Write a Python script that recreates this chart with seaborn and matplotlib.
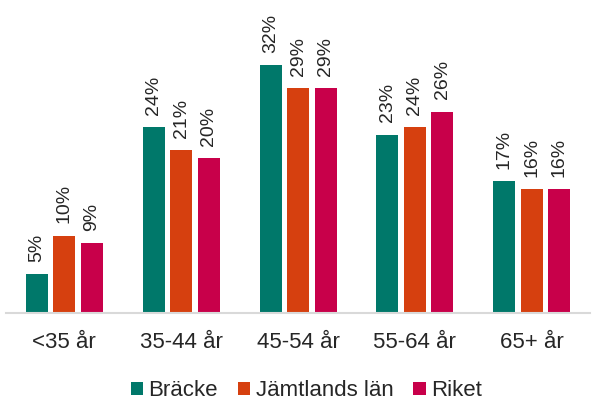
import matplotlib
matplotlib.use("Agg")
import matplotlib.pyplot as plt
import seaborn as sns
import pandas as pd

categories = ["<35 år", "35-44 år", "45-54 år", "55-64 år", "65+ år"]
series = ["Bräcke", "Jämtlands län", "Riket"]
bracke = [5, 24, 32, 23, 17]
jamtland = [10, 21, 29, 24, 16]
riket = [9, 20, 29, 26, 16]
colors = ["#00786A", "#D6400F", "#C8004A"]

df = pd.DataFrame({
    "Ålder": categories * 3,
    "Serie": [s for s in series for _ in categories],
    "Andel": bracke + jamtland + riket,
})

sns.set_style("white")
plt.rcParams['font.family'] = ['Liberation Sans', 'DejaVu Sans']

fig = plt.figure(figsize=(5.92, 4), dpi=100)
ax = fig.add_axes([0.01, 0.2175, 0.987, 0.7575])
sns.barplot(data=df, x="Ålder", y="Andel", hue="Serie", palette=colors,
            saturation=1, width=0.706, linewidth=0, ax=ax)

# narrow each bar a bit so there is a white gap between neighbours
for cont in ax.containers:
    for bar in cont:
        w = bar.get_width()
        cx = bar.get_x() + w / 2
        bar.set_width(w * 0.8)
        bar.set_x(cx - w * 0.4)

for cont in ax.containers:
    for bar in cont:
        h = bar.get_height()
        ax.annotate(f"{h:.0f}%", (bar.get_x() + bar.get_width() / 2, h),
                    xytext=(0, 9), textcoords="offset points",
                    rotation=90, ha="center", va="bottom", fontsize=14)

ax.set_ylim(0, 39.1)
ax.set_xlim(-0.5, 4.5)
ax.set_yticks([])
ax.set_xlabel("")
ax.set_ylabel("")
ax.tick_params(axis="x", length=0, labelsize=16, pad=14)
for s in ["top", "right", "left"]:
    ax.spines[s].set_visible(False)
ax.spines["bottom"].set_color("#D9D9D9")
ax.spines["bottom"].set_linewidth(1.5)

ax.legend(loc="center", bbox_to_anchor=(0.514, -0.257), ncol=3, frameon=False,
          fontsize=16, handlelength=0.55, handleheight=0.55, handletextpad=0.25,
          columnspacing=0.9, borderaxespad=0)

fig.savefig("out.png", dpi=100)
